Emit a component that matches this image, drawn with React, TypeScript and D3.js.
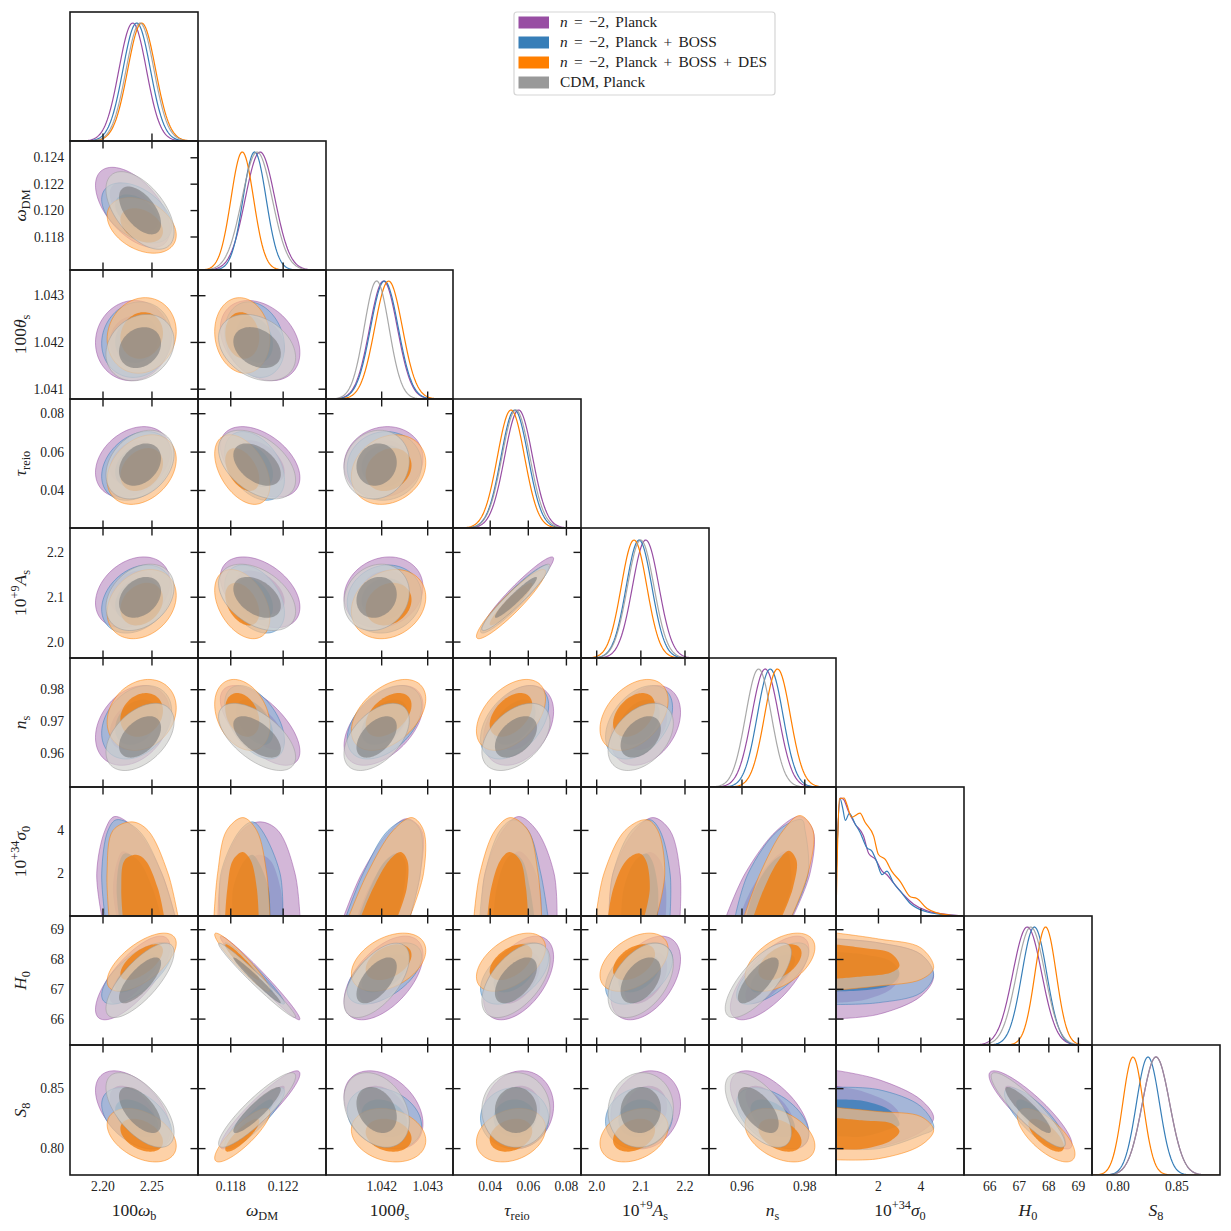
import React from "react";
import * as d3 from "d3";

const columnEdges = [70, 198, 326, 453, 581, 709, 836, 964, 1092, 1220];
const rowEdges = [12, 141, 270, 399, 528, 658, 787, 916, 1045, 1175];

type Seg = { t: string; i?: boolean; sub?: boolean; sup?: boolean };
const paramLabels: Seg[][] = [
  [{ t: "100" }, { t: "ω", i: true }, { t: "b", sub: true }],
  [{ t: "ω", i: true }, { t: "DM", sub: true }],
  [{ t: "100" }, { t: "θ", i: true }, { t: "s", sub: true }],
  [{ t: "τ", i: true }, { t: "reio", sub: true }],
  [{ t: "10" }, { t: "+9", sup: true }, { t: "A", i: true }, { t: "s", sub: true }],
  [{ t: "n", i: true }, { t: "s", sub: true }],
  [{ t: "10" }, { t: "+34", sup: true }, { t: "σ", i: true }, { t: "0", sub: true }],
  [{ t: "H", i: true }, { t: "0", sub: true }],
  [{ t: "S", i: true }, { t: "8", sub: true }],
];
const paramDomains = [
  [2.1663, 2.297], [0.1155, 0.12527], [1.04079, 1.04355], [0.02047, 0.08766], [1.9644, 2.2544],
  [0.9495, 0.98994], [0, 6.03], [65.13, 69.46], [0.778, 0.8864],
];
const xTicks = [[2.2, 2.25], [0.118, 0.122], [1.042, 1.043], [0.04, 0.06, 0.08], [2.0, 2.1, 2.2], [0.96, 0.98], [2, 4], [66, 67, 68, 69], [0.8, 0.85]];
const yTicks = [[], [0.118, 0.12, 0.122, 0.124], [1.041, 1.042, 1.043], [0.04, 0.06, 0.08], [2.0, 2.1, 2.2], [0.96, 0.97, 0.98], [2, 4], [66, 67, 68, 69], [0.8, 0.85]];
const tickDigits = [2, 3, 3, 2, 1, 2, 0, 0, 2];

const seriesNames = ["n = −2, Planck", "n = −2, Planck + BOSS", "n = −2, Planck + BOSS + DES", "CDM, Planck"];
const lineColors = ["#984ea3", "#377eb8", "#ff7f00", "#999999"];
const outerFills = ["rgb(193,152,200)", "rgb(146,181,216)", "rgb(252,190,130)", "rgb(210,209,207)"];
const innerFills = ["#984ea3", "#377eb8", "rgb(240,124,12)", "#737373"];
const innerOpacity = [0.78, 0.78, 0.78, 0.55];

// peak positions and widths read from the marginals (order: wb, wDM, thetas, tau, As, ns, H0, S8)
const meanPurple = [2.2303, 0.12024, 1.04204, 0.0549, 2.111, 0.9674, 67.27, 0.8322];
const meanBlue = [2.2344, 0.11982, 1.04206, 0.0528, 2.0959, 0.96898, 67.51, 0.8254];
const meanOrange = [2.2395, 0.11888, 1.04215, 0.0509, 2.0846, 0.9713, 67.89, 0.8127];
const meanGray = [2.2378, 0.12001, 1.04189, 0.0535, 2.0997, 0.96527, 67.39, 0.8322];
const sdPurple = [0.014, 0.00113, 0.0003, 0.0073, 0.03, 0.0043, 0.49, 0.0116];
const sdBlue = [0.014, 0.00088, 0.0003, 0.0071, 0.029, 0.0041, 0.42, 0.0098];
const sdOrange = [0.0142, 0.00086, 0.0003, 0.0071, 0.029, 0.0041, 0.36, 0.0087];
const sdGray = [0.0142, 0.00115, 0.00027, 0.0073, 0.03, 0.0041, 0.48, 0.0116];

// centres and half-sizes of the two-parameter contours
const centrePurple = [2.2303, 0.12024, 1.04204, 0.0549, 2.111, 0.9688, 67.38, 0.8323];
const centreBlue = [2.2344, 0.11982, 1.04206, 0.0528, 2.0959, 0.9698, 67.53, 0.8253];
const centreOrange = [2.2395, 0.11888, 1.04215, 0.0509, 2.0846, 0.9721, 67.91, 0.8112];
const centreGray = [2.2378, 0.12001, 1.04189, 0.0535, 2.0997, 0.9652, 67.3, 0.8322];
const spreadPurple = [0.0155, 0.00124, 0.00035, 0.0075, 0.0322, 0.0051, 0.573, 0.0133];
const spreadBlue = [0.0146, 0.00093, 0.00033, 0.0073, 0.031, 0.0047, 0.42, 0.0104];
const spreadOrange = [0.0144, 0.00086, 0.00033, 0.0074, 0.0315, 0.00454, 0.398, 0.0091];
const spreadGray = [0.0142, 0.0012, 0.00029, 0.0073, 0.0302, 0.0043, 0.51, 0.0127];

// tilt of each two-parameter contour, by row
const tiltPurple = [[-0.55], [0.05, -0.3], [0.3, -0.45, 0.1], [0.3, -0.42, 0.15, 0.95], [0.3, -0.65, 0.5, 0.35, 0.33], [0.75, -0.98, 0.55, 0.5, 0.45, 0.7], [-0.5, 0.92, -0.35, 0.1, 0.15, -0.6, -0.88]];
const tiltBlue = [[-0.45], [0.1, -0.2], [0.3, -0.4, 0.05], [0.3, -0.4, 0.1, 0.94], [0.3, -0.5, 0.45, 0.45, 0.4], [0.7, -0.97, 0.55, 0.5, 0.45, 0.7], [-0.45, 0.88, -0.25, 0, 0.1, -0.5, -0.8]];
const tiltOrange = [[-0.35], [0.1, -0.1], [0.3, -0.45, 0.2], [0.25, -0.4, 0.2, 0.93], [0.2, -0.3, 0.45, 0.45, 0.4], [0.65, -0.95, 0.4, 0.5, 0.45, 0.5], [-0.4, 0.85, -0.2, 0.25, 0.3, -0.4, -0.7]];
const tiltGray = [[-0.55], [0.2, -0.3], [0.3, -0.45, 0.1], [0.3, -0.42, 0.15, 0.95], [0.45, -0.6, 0.5, 0.45, 0.4], [0.75, -0.98, 0.6, 0.55, 0.45, 0.75], [-0.6, 0.9, -0.3, 0, 0.05, -0.6, -0.9]];

// outer contour against sigma0: low/high edge at sigma0 = 0, 2, 4, then the tip (value, sigma0)
const sigmaEdgesPurple = [
  [2.1987, 2.2735, 2.1936, 2.2599, 2.202, 2.2344, 2.2117, 4.65],
  [0.11702, 0.12328, 0.11733, 0.1229, 0.11886, 0.1216, 0.12023, 4.4],
  [1.04118, 1.04262, 1.04157, 1.04284, 1.04218, 1.04287, 1.04255, 4.55],
  [0.0355, 0.0751, 0.0373, 0.0735, 0.0467, 0.0644, 0.0549, 4.65],
  [2.0279, 2.1889, 2.037, 2.1889, 2.0868, 2.166, 2.1277, 4.6],
  [0.95502, 0.97629, 0.96105, 0.98168, 0.97111, 0.98263, 0.97851, 4.65],
  [66.01, 68.69, 66.16, 68.56, 66.77, 68.17, 67.44, 4.6],
  [0.8, 0.8652, 0.8014, 0.8576, 0.814, 0.8407, 0.8253, 4.6],
];
const sigmaEdgesBlue = [
  [2.202, 2.2735, 2.1987, 2.2599, 2.2051, 2.2364, 2.2138, 4.5],
  [0.11718, 0.12198, 0.11725, 0.12176, 0.1187, 0.12038, 0.11967, 4.4],
  [1.04123, 1.04262, 1.0416, 1.04284, 1.04214, 1.04284, 1.04258, 4.5],
  [0.0346, 0.0703, 0.0373, 0.0665, 0.0452, 0.0599, 0.0522, 4.5],
  [2.0279, 2.1662, 2.037, 2.1662, 2.0794, 2.1431, 2.1209, 4.5],
  [0.95787, 0.97587, 0.962, 0.98105, 0.97152, 0.98009, 0.97905, 4.5],
  [66.49, 68.69, 66.55, 68.56, 66.88, 68.17, 67.5, 4.6],
  [0.8, 0.8511, 0.8, 0.8492, 0.8112, 0.8351, 0.8169, 4.6],
];
const sigmaEdgesOrange = [
  [2.2061, 2.2765, 2.2041, 2.2663, 2.2102, 2.2459, 2.2296, 4.4],
  [0.11672, 0.12099, 0.117, 0.12074, 0.11769, 0.11998, 0.11893, 4.6],
  [1.04129, 1.04262, 1.04169, 1.04291, 1.04225, 1.04291, 1.04266, 4.6],
  [0.0315, 0.067, 0.0346, 0.0651, 0.0425, 0.0599, 0.0506, 4.6],
  [1.9984, 2.1361, 2.0166, 2.1542, 2.0642, 2.1383, 2.1134, 4.5],
  [0.96073, 0.97587, 0.96581, 0.98105, 0.97311, 0.98263, 0.97851, 4.7],
  [66.97, 68.89, 67.11, 68.69, 67.33, 68.39, 67.72, 4.6],
  [0.7907, 0.8343, 0.7916, 0.8309, 0.8028, 0.8267, 0.8154, 4.6],
];

// marginal of sigma0
const sigmaCurvePurple = [[0, 0.3], [0.19, 1], [0.35, 0.99], [0.58, 0.89], [0.9, 0.78], [1.29, 0.68], [1.54, 0.53], [1.86, 0.48], [2.17, 0.38], [2.4, 0.35], [2.71, 0.28], [3.18, 0.18], [3.66, 0.1], [4.29, 0.043], [4.92, 0.02], [6, 0]];
const sigmaCurveBlue = [[0, 0.3], [0.19, 0.994], [0.32, 0.91], [0.44, 0.81], [0.63, 0.87], [0.9, 0.78], [1.13, 0.71], [1.45, 0.58], [1.69, 0.55], [1.92, 0.46], [2.17, 0.35], [2.4, 0.38], [2.71, 0.28], [3.03, 0.21], [3.5, 0.106], [4.29, 0.034], [4.92, 0.014], [6, 0]];
const sigmaCurveOrange = [[0, 0], [0.06, 0.5], [0.16, 0.994], [0.38, 1], [0.5, 0.951], [0.74, 0.837], [1.13, 0.871], [1.37, 0.794], [1.77, 0.679], [2, 0.521], [2.32, 0.479], [2.63, 0.378], [3.03, 0.292], [3.5, 0.163], [3.81, 0.149], [4.29, 0.063], [4.76, 0.026], [5.39, 0.006], [6, 0]];

const means = [meanPurple, meanBlue, meanOrange, meanGray];
const sds = [sdPurple, sdBlue, sdOrange, sdGray];
const centres = [centrePurple, centreBlue, centreOrange, centreGray];
const spreads = [spreadPurple, spreadBlue, spreadOrange, spreadGray];
const tilts = [tiltPurple, tiltBlue, tiltOrange, tiltGray];
const sigmaEdges = [sigmaEdgesPurple, sigmaEdgesBlue, sigmaEdgesOrange];
const sigmaCurves = [sigmaCurvePurple, sigmaCurveBlue, sigmaCurveOrange];

const SIGMA = 6;
const gaussIdx = (p: number) => (p < SIGMA ? p : p - 1);
const xScales = paramDomains.map((d, i) => d3.scaleLinear().domain(d).range([columnEdges[i], columnEdges[i + 1]]));
const yScales = paramDomains.map((d, i) => d3.scaleLinear().domain(d).range([rowEdges[i + 1], rowEdges[i]]));
const closed = d3.line<[number, number]>().curve(d3.curveLinearClosed);
const soft = d3.line<[number, number]>().curve(d3.curveCatmullRom.alpha(0.5));
const LEVELS = [2.45, 1.51];

function ellipse(s: number, c: number, r: number, radius: number) {
  const ic = gaussIdx(c), ir = gaussIdx(r);
  const rho = tilts[s][ir - 1][ic];
  const pts: [number, number][] = d3.range(90).map((k) => {
    const t = (k / 90) * 2 * Math.PI;
    const u = Math.cos(t);
    const v = rho * u + Math.sqrt(1 - rho * rho) * Math.sin(t);
    return [xScales[c](centres[s][ic] + radius * spreads[s][ic] * u), yScales[r](centres[s][ir] + radius * spreads[s][ir] * v)];
  });
  return closed(pts) as string;
}

function sigmaOutline(s: number, other: number, inner: boolean, sigmaOnX: boolean) {
  const e = sigmaEdges[s][gaussIdx(other)];
  const c0 = (e[0] + e[1]) / 2;
  const f = inner ? 0.65 : 1;
  const g = inner ? 0.6 : 1;
  const side = (lo: number, hi: number, level: number, pick: number): [number, number] => {
    const c = (lo + hi) / 2;
    const w = (hi - lo) / 2;
    return [c0 + (c - c0) * f + pick * g * w, level * f];
  };
  const raw: [number, number][] = [
    side(e[0], e[1], 0, -1), side(e[2], e[3], 2, -1), side(e[4], e[5], 4, -1),
    [c0 + (e[6] - c0) * f, e[7] * f],
    side(e[4], e[5], 4, 1), side(e[2], e[3], 2, 1), side(e[0], e[1], 0, 1),
  ];
  const pts = raw.map(([v, sg]) => (sigmaOnX
    ? [xScales[SIGMA](sg), yScales[other](v)]
    : [xScales[other](v), yScales[SIGMA](sg)]) as [number, number]);
  return (soft(pts) as string) + "Z";
}

function diagonalPaths(p: number) {
  const y = (d: number) => rowEdges[p + 1] - d * 118;
  if (p === SIGMA) {
    return sigmaCurves.map((curve, s) => ({
      s,
      d: d3.line<number[]>().curve(d3.curveMonotoneX).x((v) => xScales[p](v[0])).y((v) => y(v[1]))(curve) as string,
    }));
  }
  const ip = gaussIdx(p);
  return means.map((m, s) => {
    const pts: [number, number][] = [];
    const [lo, hi] = paramDomains[p];
    for (let k = 0; k <= 120; k++) {
      const v = lo + ((hi - lo) * k) / 120;
      const z = (v - m[ip]) / sds[s][ip];
      pts.push([xScales[p](v), y(Math.exp(-0.5 * z * z))]);
    }
    return { s, d: d3.line()(pts) as string };
  });
}

function Rich({ segs, size }: { segs: Seg[]; size: number }) {
  let shift = 0;
  return (
    <>
      {segs.map((g, k) => {
        const target = g.sub ? size * 0.24 : g.sup ? -size * 0.4 : 0;
        const dy = target - shift;
        shift = target;
        return (
          <tspan key={k} dy={dy} fontStyle={g.i ? "italic" : "normal"} fontSize={g.sub || g.sup ? size * 0.7 : size}>
            {g.t}
          </tspan>
        );
      })}
    </>
  );
}

export default function App() {
  const font = "'Liberation Serif', serif";
  const panels: React.ReactNode[] = [];
  const T = 7.5;
  for (let r = 0; r < 9; r++) {
    for (let c = 0; c <= r; c++) {
      const x0 = columnEdges[c], x1 = columnEdges[c + 1], y0 = rowEdges[r], y1 = rowEdges[r + 1];
      const clip = `p${r}-${c}`;
      const body: React.ReactNode[] = [];
      if (r === c) {
        diagonalPaths(r).forEach(({ s, d }) => {
          body.push(<path key={s} d={d} fill="none" stroke={lineColors[s]} strokeWidth={1.2} strokeOpacity={s === 3 ? 0.85 : 1} />);
        });
      } else {
        const order = r === SIGMA || c === SIGMA ? [0, 1, 2] : [0, 1, 2, 3];
        order.forEach((s) => {
          const shape = (inner: boolean, level: number) =>
            r === SIGMA ? sigmaOutline(s, c, inner, false) : c === SIGMA ? sigmaOutline(s, r, inner, true) : ellipse(s, c, r, level);
          body.push(
            <g key={s}>
              <path d={shape(false, LEVELS[0])} fill={outerFills[s]} fillOpacity={0.7} stroke={lineColors[s]} strokeOpacity={0.5} strokeWidth={1} />
              <path d={shape(true, LEVELS[1])} fill={innerFills[s]} fillOpacity={innerOpacity[s]} stroke="none" />
            </g>
          );
        });
      }
      panels.push(
        <g key={clip}>
          <clipPath id={clip}><rect x={x0} y={y0} width={x1 - x0} height={y1 - y0} /></clipPath>
          <g clipPath={`url(#${clip})`}>{body}</g>
        </g>
      );
    }
  }
  const ticks: React.ReactNode[] = [];
  const frames: React.ReactNode[] = [];
  for (let r = 0; r < 9; r++) {
    for (let c = 0; c <= r; c++) {
      const x0 = columnEdges[c], x1 = columnEdges[c + 1], y0 = rowEdges[r], y1 = rowEdges[r + 1];
      frames.push(<rect key={`f${r}-${c}`} x={x0} y={y0} width={x1 - x0} height={y1 - y0} fill="none" stroke="#1a1a1a" strokeWidth={1.6} />);
      if (c < r) {
        xTicks[c].forEach((t) => {
          const x = xScales[c](t);
          ticks.push(<line key={`x${r}-${c}-${t}`} x1={x} x2={x} y1={y0 - T} y2={y0 + T} stroke="#1a1a1a" strokeWidth={1.4} />);
        });
        yTicks[r].forEach((t) => {
          const y = yScales[r](t);
          ticks.push(<line key={`y${r}-${c}-${t}`} x1={x1 - T} x2={c + 1 < r ? x1 + T : x1} y1={y} y2={y} stroke="#1a1a1a" strokeWidth={1.4} />);
        });
      }
    }
  }
  return (
    <svg width={1231} height={1231} viewBox="0 0 1231 1231" style={{ position: "absolute", left: 0, top: 0, display: "block" }} fontFamily={font}>
      <rect width={1231} height={1231} fill="#fff" />
      {panels}
      {ticks}
      {frames}
      {xTicks.map((ts, c) =>
        ts.map((t) => (
          <text key={`xl${c}-${t}`} x={xScales[c](t)} y={1191} textAnchor="middle" fontSize={13.6} fill="#222">
            {d3.format(`.${tickDigits[c]}f`)(t)}
          </text>
        ))
      )}
      {yTicks.map((ts, r) =>
        ts.map((t) => (
          <text key={`yl${r}-${t}`} x={64} y={yScales[r](t) + 4.6} textAnchor="end" fontSize={13.6} fill="#222">
            {d3.format(`.${tickDigits[r]}f`)(t)}
          </text>
        ))
      )}
      {paramLabels.map((segs, p) => (
        <text key={`xn${p}`} x={(columnEdges[p] + columnEdges[p + 1]) / 2} y={1216} textAnchor="middle" fill="#222">
          <Rich segs={segs} size={17.5} />
        </text>
      ))}
      {paramLabels.map((segs, p) =>
        p === 0 ? null : (
          <text key={`yn${p}`} transform={`translate(26,${(rowEdges[p] + rowEdges[p + 1]) / 2}) rotate(-90)`} textAnchor="middle" fill="#222">
            <Rich segs={segs} size={17.5} />
          </text>
        )
      )}
      <g>
        <rect x={514} y={12} width={261} height={83} rx={3} fill="#fff" stroke="#d5d5d5" strokeWidth={1.2} />
        {seriesNames.map((name, s) => {
          const y = 22.5 + s * 20;
          const italicN = name.startsWith("n");
          return (
            <g key={name}>
              <rect x={518.5} y={y - 6} width={30.5} height={12} fill={lineColors[s]} />
              <text x={560} y={y + 4.8} fontSize={15.4} fill="#222" wordSpacing={italicN ? 2.4 : 0.5}>
                {italicN ? <><tspan fontStyle="italic">n</tspan>{name.slice(1)}</> : name}
              </text>
            </g>
          );
        })}
      </g>
    </svg>
  );
}
